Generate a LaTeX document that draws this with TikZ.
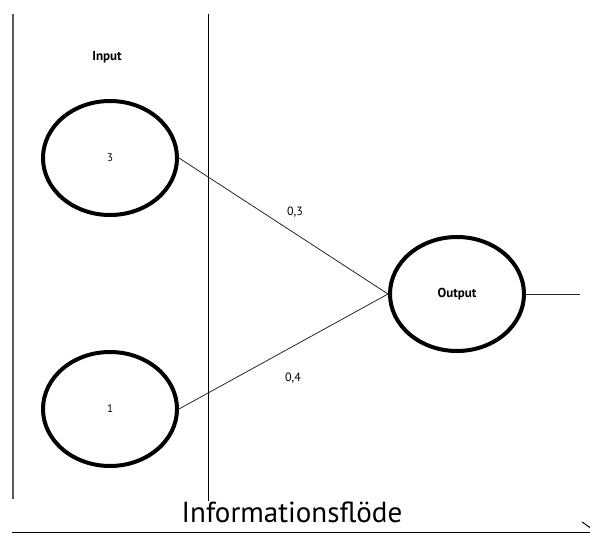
\documentclass[tikz,border=0pt]{standalone}
\usepackage{fontspec}
\setmainfont{PT Sans}
\usetikzlibrary{shapes.geometric,arrows.meta}
\tikzset{
  neuron/.style={draw, ellipse, line width=4pt, minimum width=134pt, minimum height=114pt, inner sep=0pt, font=\fontsize{11}{12}\selectfont},
  conn/.style={line width=0.8pt, draw=black!85},
  lbl/.style={font=\fontsize{12}{14}\selectfont, inner sep=0pt},
  divider/.style={line width=0.9pt}
}
\begin{document}
\begin{tikzpicture}[x=1pt,y=-1pt]
\useasboundingbox (0,0) rectangle (590,536);
% dividers
\coordinate (l1a) at (13,14);
\coordinate (l1b) at (13,499);
\coordinate (l2a) at (208,14);
\coordinate (l2b) at (208,501);
\draw[divider, draw=black!65, line width=1.1pt] (l1a) -- (l1b);
\draw[divider] (l2a) -- (l2b);
% title
\node[lbl, font=\fontsize{13}{15}\selectfont\bfseries] (inp) at (107,57) {Input};
% neurons
\node[neuron] (n3) at (110,158) {3};
\node[neuron] (n1) at (110,409) {1};
\node[neuron, font=\fontsize{13}{15}\selectfont\bfseries] (out) at (457,294) {Output};
% connectors
\draw[conn] (n3.east) -- (out.west);
\draw[conn] (n1.east) -- (out.west);
\coordinate (oend) at (580,294);
\draw[conn] (out.east) -- (oend);
% weights
\node[lbl] (w3) at (295,212) {0,3};
\node[lbl] (w4) at (293,378) {0,4};
% flow arrow
\node[font=\fontsize{29}{32}\selectfont, inner sep=0pt] (flow) at (292,512) {Informationsflöde};
\coordinate (fa) at (12,532);
\coordinate (fb) at (597,532);
\draw[line width=1pt, -{Straight Barb[length=14pt,width=20pt]}] (fa) -- (fb);
\end{tikzpicture}
\end{document}
